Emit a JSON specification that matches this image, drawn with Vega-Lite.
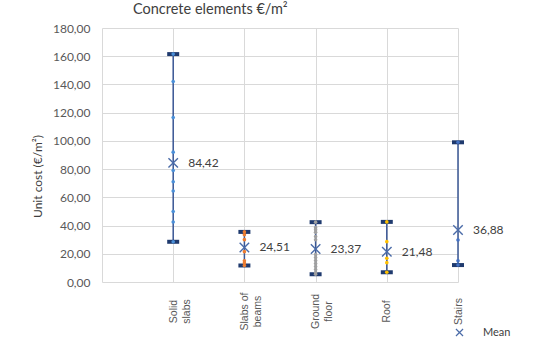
{
  "$schema": "https://vega.github.io/schema/vega-lite/v6.json",
  "width": 356,
  "height": 254,
  "autosize": {"type": "none"},
  "padding": {"left": 102, "top": 28, "right": 78, "bottom": 59},
  "background": "white",
  "title": {
    "text": "Concrete elements €/m²",
    "anchor": "start",
    "frame": "group",
    "dx": 31,
    "offset": 5,
    "font": "Lato",
    "fontSize": 14.5,
    "letterSpacing": 0.6,
    "fontWeight": "normal",
    "color": "#404040"
  },
  "datasets": {
    "dots": [
      {"x": 1, "element": "Solid slabs", "value": 161.5},
      {"x": 1, "element": "Solid slabs", "value": 142},
      {"x": 1, "element": "Solid slabs", "value": 116.5},
      {"x": 1, "element": "Solid slabs", "value": 92},
      {"x": 1, "element": "Solid slabs", "value": 79},
      {"x": 1, "element": "Solid slabs", "value": 71},
      {"x": 1, "element": "Solid slabs", "value": 64.5},
      {"x": 1, "element": "Solid slabs", "value": 50},
      {"x": 1, "element": "Solid slabs", "value": 42.5},
      {"x": 1, "element": "Solid slabs", "value": 28.5},
      {"x": 2, "element": "Slabs of beams", "value": 35.5},
      {"x": 2, "element": "Slabs of beams", "value": 33.5},
      {"x": 2, "element": "Slabs of beams", "value": 30},
      {"x": 2, "element": "Slabs of beams", "value": 21.5},
      {"x": 2, "element": "Slabs of beams", "value": 15},
      {"x": 2, "element": "Slabs of beams", "value": 13.5},
      {"x": 2, "element": "Slabs of beams", "value": 11.7},
      {"x": 3, "element": "Ground floor", "value": 42.4},
      {"x": 3, "element": "Ground floor", "value": 38.5},
      {"x": 3, "element": "Ground floor", "value": 37},
      {"x": 3, "element": "Ground floor", "value": 35.2},
      {"x": 3, "element": "Ground floor", "value": 32.2},
      {"x": 3, "element": "Ground floor", "value": 29.9},
      {"x": 3, "element": "Ground floor", "value": 19.4},
      {"x": 3, "element": "Ground floor", "value": 17.3},
      {"x": 3, "element": "Ground floor", "value": 15.2},
      {"x": 3, "element": "Ground floor", "value": 13.1},
      {"x": 3, "element": "Ground floor", "value": 11},
      {"x": 3, "element": "Ground floor", "value": 8.9},
      {"x": 3, "element": "Ground floor", "value": 6.7},
      {"x": 3, "element": "Ground floor", "value": 5.5},
      {"x": 4, "element": "Roof", "value": 42.6},
      {"x": 4, "element": "Roof", "value": 28.6},
      {"x": 4, "element": "Roof", "value": 16.8},
      {"x": 4, "element": "Roof", "value": 13.7},
      {"x": 4, "element": "Roof", "value": 6.9},
      {"x": 5, "element": "Stairs", "value": 99},
      {"x": 5, "element": "Stairs", "value": 29.8},
      {"x": 5, "element": "Stairs", "value": 15},
      {"x": 5, "element": "Stairs", "value": 12}
    ],
    "ranges": [
      {"x": 1, "element": "Solid slabs", "min": 28.5, "max": 161.5, "mean": 84.42, "series": "Mean"},
      {"x": 2, "element": "Slabs of beams", "min": 11.7, "max": 35.5, "mean": 24.51, "series": "Mean"},
      {"x": 3, "element": "Ground floor", "min": 5.5, "max": 42.4, "mean": 23.37, "series": "Mean"},
      {"x": 4, "element": "Roof", "min": 6.9, "max": 42.6, "mean": 21.48, "series": "Mean"},
      {"x": 5, "element": "Stairs", "min": 12, "max": 99, "mean": 36.88, "series": "Mean"}
    ]
  },
  "encoding": {
    "x": {
      "field": "x",
      "type": "quantitative",
      "scale": {"domain": [0, 5], "nice": false, "zero": false},
      "axis": {
        "title": null,
        "values": [0, 1, 2, 3, 4, 5],
        "grid": true,
        "domain": false,
        "ticks": false,
        "labelAngle": -90,
        "labelAlign": "center",
        "labelBaseline": "middle",
        "labelPadding": 29,
        "labelLineHeight": 13,
        "labelFont": "Liberation Sans",
        "labelFontSize": 10.5,
        "labelColor": "#595959",
        "labelExpr": "datum.value == 1 ? ['Solid', 'slabs'] : datum.value == 2 ? ['Slabs of', 'beams'] : datum.value == 3 ? ['Ground', 'floor'] : datum.value == 4 ? 'Roof' : datum.value == 5 ? 'Stairs' : ''"
      }
    }
  },
  "layer": [
    {
      "data": {"name": "ranges"},
      "mark": {"type": "rule", "color": "#3A5795", "strokeWidth": 1.5},
      "encoding": {
        "y": {
          "field": "min",
          "type": "quantitative",
          "title": "Unit cost (€/m²)",
          "scale": {"domain": [0, 180], "nice": false},
          "axis": {
            "title": "Unit cost (€/m²)",
            "values": [0, 20, 40, 60, 80, 100, 120, 140, 160, 180],
            "format": ".2f",
            "grid": true,
            "labelOverlap": false,
            "domain": false,
            "ticks": false,
            "labelPadding": 12,
            "labelFont": "Lato",
            "labelFontSize": 12,
            "labelColor": "#595959",
            "titleFont": "Lato",
            "titleFontSize": 12,
            "titleFontWeight": "normal",
            "titleColor": "#404040",
            "titleAngle": -90,
            "titleAlign": "center",
            "titleBaseline": "middle",
            "titleX": -65,
            "titleY": 148
          }
        },
        "y2": {"field": "max"}
      }
    },
    {
      "data": {"name": "ranges"},
      "mark": {"type": "tick", "orient": "horizontal", "size": 12, "thickness": 4, "color": "#1F3A6E", "opacity": 1},
      "encoding": {"y": {"field": "min", "type": "quantitative", "title": "Unit cost (€/m²)",
          "axis": {
            "title": "Unit cost (€/m²)",
            "values": [0, 20, 40, 60, 80, 100, 120, 140, 160, 180],
            "format": ".2f",
            "grid": true,
            "labelOverlap": false,
            "domain": false,
            "ticks": false,
            "labelPadding": 12,
            "labelFont": "Lato",
            "labelFontSize": 12,
            "labelColor": "#595959",
            "titleFont": "Lato",
            "titleFontSize": 12,
            "titleFontWeight": "normal",
            "titleColor": "#404040",
            "titleAngle": -90,
            "titleAlign": "center",
            "titleBaseline": "middle",
            "titleX": -65,
            "titleY": 148
          }}}
    },
    {
      "data": {"name": "ranges"},
      "mark": {"type": "tick", "orient": "horizontal", "size": 12, "thickness": 4, "color": "#1F3A6E", "opacity": 1},
      "encoding": {"y": {"field": "max", "type": "quantitative", "title": "Unit cost (€/m²)",
          "axis": {
            "title": "Unit cost (€/m²)",
            "values": [0, 20, 40, 60, 80, 100, 120, 140, 160, 180],
            "format": ".2f",
            "grid": true,
            "labelOverlap": false,
            "domain": false,
            "ticks": false,
            "labelPadding": 12,
            "labelFont": "Lato",
            "labelFontSize": 12,
            "labelColor": "#595959",
            "titleFont": "Lato",
            "titleFontSize": 12,
            "titleFontWeight": "normal",
            "titleColor": "#404040",
            "titleAngle": -90,
            "titleAlign": "center",
            "titleBaseline": "middle",
            "titleX": -65,
            "titleY": 148
          }}}
    },
    {
      "data": {"name": "dots"},
      "mark": {"type": "circle", "size": 13, "opacity": 1},
      "encoding": {
        "y": {"field": "value", "type": "quantitative", "title": "Unit cost (€/m²)",
          "axis": {
            "title": "Unit cost (€/m²)",
            "values": [0, 20, 40, 60, 80, 100, 120, 140, 160, 180],
            "format": ".2f",
            "grid": true,
            "labelOverlap": false,
            "domain": false,
            "ticks": false,
            "labelPadding": 12,
            "labelFont": "Lato",
            "labelFontSize": 12,
            "labelColor": "#595959",
            "titleFont": "Lato",
            "titleFontSize": 12,
            "titleFontWeight": "normal",
            "titleColor": "#404040",
            "titleAngle": -90,
            "titleAlign": "center",
            "titleBaseline": "middle",
            "titleX": -65,
            "titleY": 148
          }},
        "color": {
          "field": "element",
          "type": "nominal",
          "scale": {
            "domain": ["Solid slabs", "Slabs of beams", "Ground floor", "Roof", "Stairs"],
            "range": ["#4A90D9", "#ED7D31", "#A0A0A0", "#FFC000", "#4472C4"]
          },
          "legend": null
        }
      }
    },
    {
      "data": {"name": "ranges"},
      "mark": {"type": "point", "filled": false, "stroke": "#4A6BA8", "strokeWidth": 1.4, "size": 90, "opacity": 1},
      "encoding": {
        "y": {"field": "mean", "type": "quantitative", "title": "Unit cost (€/m²)",
          "axis": {
            "title": "Unit cost (€/m²)",
            "values": [0, 20, 40, 60, 80, 100, 120, 140, 160, 180],
            "format": ".2f",
            "grid": true,
            "labelOverlap": false,
            "domain": false,
            "ticks": false,
            "labelPadding": 12,
            "labelFont": "Lato",
            "labelFontSize": 12,
            "labelColor": "#595959",
            "titleFont": "Lato",
            "titleFontSize": 12,
            "titleFontWeight": "normal",
            "titleColor": "#404040",
            "titleAngle": -90,
            "titleAlign": "center",
            "titleBaseline": "middle",
            "titleX": -65,
            "titleY": 148
          }},
        "shape": {
          "field": "series",
          "type": "nominal",
          "scale": {"domain": ["Mean"], "range": ["M-1,-1L1,1M-1,1L1,-1"]},
          "legend": {
            "title": null,
            "orient": "none",
            "legendX": 352,
            "legendY": 299,
            "padding": 0,
            "symbolSize": 50,
            "symbolStrokeColor": "#4A6BA8",
            "symbolFillColor": "transparent",
            "symbolStrokeWidth": 1.2,
            "labelFont": "Lato",
            "labelFontSize": 11,
            "labelColor": "#404040",
            "labelOffset": 18
          }
        }
      }
    },
    {
      "data": {"name": "ranges"},
      "mark": {"type": "text", "align": "left", "baseline": "middle", "dx": 15, "font": "Lato", "fontSize": 12, "color": "#404040"},
      "encoding": {
        "y": {"field": "mean", "type": "quantitative", "title": "Unit cost (€/m²)",
          "axis": {
            "title": "Unit cost (€/m²)",
            "values": [0, 20, 40, 60, 80, 100, 120, 140, 160, 180],
            "format": ".2f",
            "grid": true,
            "labelOverlap": false,
            "domain": false,
            "ticks": false,
            "labelPadding": 12,
            "labelFont": "Lato",
            "labelFontSize": 12,
            "labelColor": "#595959",
            "titleFont": "Lato",
            "titleFontSize": 12,
            "titleFontWeight": "normal",
            "titleColor": "#404040",
            "titleAngle": -90,
            "titleAlign": "center",
            "titleBaseline": "middle",
            "titleX": -65,
            "titleY": 148
          }},
        "text": {"field": "mean", "type": "quantitative", "format": ".2f"}
      }
    }
  ],
  "config": {
    "locale": {"number": {"decimal": ",", "thousands": ".", "grouping": [3], "currency": ["", " €"]}},
    "view": {"stroke": null},
    "axis": {"gridColor": "#D9D9D9", "gridWidth": 1}
  }
}
